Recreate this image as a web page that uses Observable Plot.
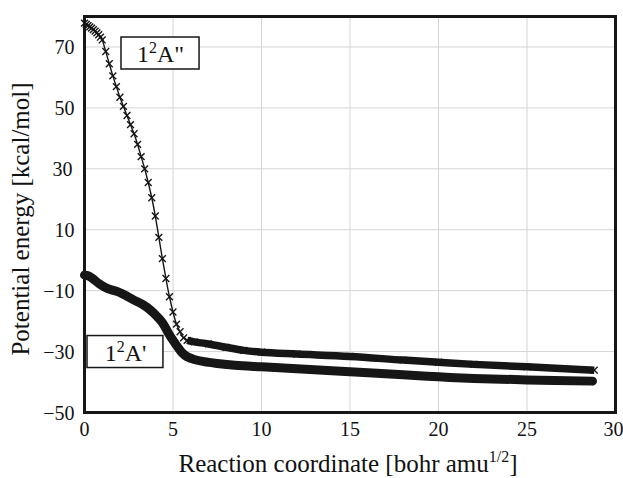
<!DOCTYPE html>
<html>
<head>
<meta charset="utf-8">
<script src="https://cdn.jsdelivr.net/npm/d3@7"></script>
<script src="https://cdn.jsdelivr.net/npm/@observablehq/plot@0.6"></script>
<style>
  html, body { margin: 0; padding: 0; background: #fff; }
  #chart { width: 623px; height: 478px; }
</style>
</head>
<body>
<div id="chart"></div>
<script>
// ---- Data ----
const xTicks = [0, 5, 10, 15, 20, 25, 30];
const yTicks = [-50, -30, -10, 10, 30, 50, 70];

// 1²A'' state (crosses)
const a2x = [0.0, 0.1, 0.2, 0.3, 0.4, 0.5, 0.6, 0.7, 0.8, 0.9, 1.0, 1.2, 1.4, 1.6, 1.8, 2.0, 2.2, 2.4, 2.6, 2.8, 3.0, 3.2, 3.4, 3.6, 3.8, 4.0, 4.2, 4.4, 4.6, 4.8, 5.0, 5.2, 5.4, 5.6, 5.8, 6.2, 7.0, 8.0, 9.0, 10.0, 12.0, 15.0, 18.0, 20.0, 22.0, 25.0, 28.8];
const a2y = [77.8, 77.4, 77.0, 76.6, 76.2, 75.7, 75.2, 74.6, 74.0, 73.2, 72.3, 68.5, 64.5, 60.5, 57.0, 53.5, 50.5, 47.5, 44.5, 41.5, 38.0, 34.0, 30.0, 25.5, 20.5, 14.5, 7.5, 0.5, -6.0, -12.0, -17.0, -21.0, -23.5, -25.5, -26.3, -26.8, -27.5, -28.6, -29.6, -30.2, -30.8, -31.6, -32.8, -33.5, -34.2, -35.0, -36.1];

// 1²A' state (filled circles)
const a1x = [0.0, 0.2, 0.45, 0.8, 1.1, 1.5, 1.9, 2.4, 2.8, 3.3, 3.75, 4.1, 4.4, 4.75, 5.0, 5.25, 5.5, 5.8, 6.2, 6.75, 7.5, 8.5, 10.0, 12.0, 15.0, 18.0, 20.0, 22.0, 25.0, 28.7];
const a1y = [-4.9, -5.1, -6.0, -7.6, -8.7, -9.7, -10.4, -11.8, -13.1, -14.6, -16.5, -18.5, -20.5, -24.0, -26.3, -28.4, -30.3, -31.7, -32.6, -33.3, -33.9, -34.5, -35.0, -35.6, -36.6, -37.6, -38.3, -38.8, -39.3, -39.7];

const stateLabels = ["1²A\"", "1²A'"];

// ---- Build tables ----
const A2 = a2x.map((x, i) => ({x, y: a2y[i]}));
const A1 = a1x.map((x, i) => ({x, y: a1y[i]}));
const A2flat = A2.filter(d => d.x >= 5.7);

// annotation boxes (data coordinates)
const boxes = [
  {label: stateLabels[0], x1: 2.09, x2: 6.5, y1: 62.6, y2: 73.1},
  {label: stateLabels[1], x1: 0.17, x2: 4.46, y1: -35.4, y2: -24.9}
];

const ink = "#161616";
const serif = "'Liberation Serif', 'DejaVu Serif', serif";

const chart = Plot.plot({
  width: 623,
  height: 478,
  marginLeft: 84,
  marginRight: 8,
  marginTop: 16,
  marginBottom: 66,
  style: {fontFamily: serif, fontSize: "20px", color: "#111", background: "#fff"},
  x: {domain: [0, 30], ticks: xTicks},
  y: {domain: [-50, 80], ticks: yTicks},
  marks: [
    Plot.gridX(xTicks, {stroke: "#d4d4d4", strokeOpacity: 1, strokeWidth: 1}),
    Plot.gridY(yTicks, {stroke: "#d4d4d4", strokeOpacity: 1, strokeWidth: 1}),
    Plot.axisX(xTicks, {tickSize: 0, tickPadding: 9, label: null, fontSize: 20, fill: "#111"}),
    Plot.axisY(yTicks, {tickSize: 0, tickPadding: 10, label: null, fontSize: 20, fill: "#111", dy: 1}),
    // 1²A' thick band of overlapping circles
    Plot.line(A1, {x: "x", y: "y", stroke: ink, strokeWidth: 9, curve: "catmull-rom", strokeLinecap: "round", strokeLinejoin: "round"}),
    // 1²A'' thin line + crosses
    Plot.line(A2, {x: "x", y: "y", stroke: ink, strokeWidth: 1.4, curve: "catmull-rom"}),
    Plot.line(A2flat, {x: "x", y: "y", stroke: ink, strokeWidth: 7.5, curve: "catmull-rom", strokeLinecap: "butt"}),
    Plot.dot(A2, {x: "x", y: "y", symbol: "times", r: 3.2, stroke: ink, strokeWidth: 1.4}),
    // annotation boxes
    Plot.rect(boxes, {x1: "x1", x2: "x2", y1: "y1", y2: "y2", fill: "#fff", stroke: ink, strokeWidth: 1.5}),
    Plot.text(boxes, {x: d => (d.x1 + d.x2) / 2, y: d => (d.y1 + d.y2) / 2, text: "label", fontSize: 24, fill: "#111", dy: 1}),
    Plot.frame({stroke: ink, strokeWidth: 3})
  ]
});

document.getElementById("chart").appendChild(chart);

const svg = d3.select(chart);

// proper superscripts in the state labels
svg.selectAll("text").filter(function() { return stateLabels.includes(this.textContent); })
  .each(function() {
    const t = d3.select(this);
    const s = this.textContent;
    t.text(null);
    t.append("tspan").text("1");
    t.append("tspan").attr("font-size", 16).attr("dy", -9).text("2");
    t.append("tspan").attr("dy", 9).text(s.slice(2));
  });

// keep the last x tick label inside the picture
svg.selectAll("text").filter(function() { return this.textContent === "30"; })
  .attr("dx", -2);

// axis titles with superscript
const xl = svg.append("text")
  .attr("x", 348).attr("y", 472)
  .attr("text-anchor", "middle")
  .attr("font-family", serif).attr("font-size", 25).attr("fill", "#111");
xl.append("tspan").text("Reaction coordinate [bohr amu");
xl.append("tspan").attr("font-size", 16).attr("dy", -10).text("1/2");
xl.append("tspan").attr("dy", 10).text("]");

svg.append("text")
  .attr("transform", "translate(29,219) rotate(-90)")
  .attr("text-anchor", "middle")
  .attr("font-family", serif).attr("font-size", 25).attr("fill", "#111")
  .text("Potential energy [kcal/mol]");
</script>
</body>
</html>
